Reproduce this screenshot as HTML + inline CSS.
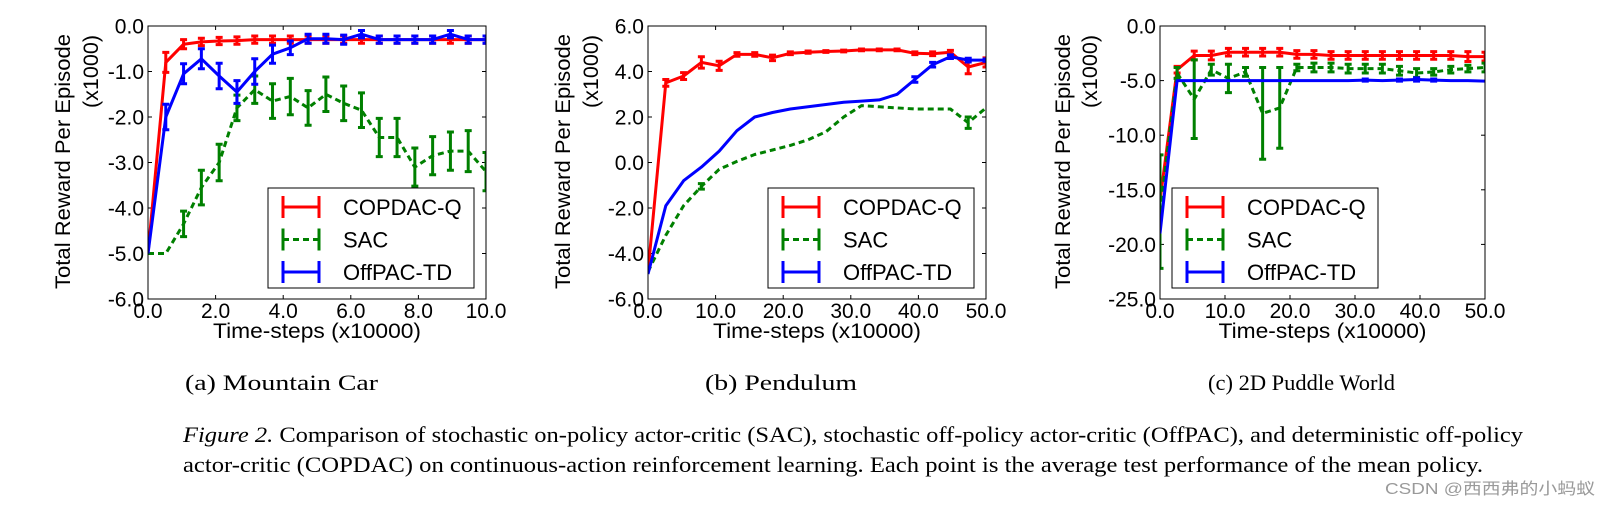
<!DOCTYPE html>
<html><head><meta charset="utf-8"><style>
html,body{margin:0;padding:0;background:#fff;}
svg{display:block;font-family:"Liberation Sans",sans-serif;}
.serif{font-family:"Liberation Serif",serif;}
</style></head><body>
<svg id="fig" width="1611" height="507" viewBox="0 0 1611 507" xmlns="http://www.w3.org/2000/svg">
<g id="charts"></g>
<text class="serif" x="185" y="390" font-size="22" textLength="193" lengthAdjust="spacingAndGlyphs">(a)  Mountain Car</text>
<text class="serif" x="705" y="390" font-size="22" textLength="152" lengthAdjust="spacingAndGlyphs">(b)  Pendulum</text>
<text class="serif" x="1208" y="390" font-size="22" textLength="187" lengthAdjust="spacingAndGlyphs">(c)  2D Puddle World</text>
<text class="serif" x="183" y="442" font-size="22" textLength="1340" lengthAdjust="spacingAndGlyphs"><tspan font-style="italic">Figure 2.</tspan>  Comparison of stochastic on-policy actor-critic (SAC), stochastic off-policy actor-critic (OffPAC), and deterministic off-policy</text>
<text class="serif" x="183" y="472" font-size="22" textLength="1300" lengthAdjust="spacingAndGlyphs">actor-critic (COPDAC) on continuous-action reinforcement learning. Each point is the average test performance of the mean policy.</text>
<text x="1385" y="494" font-size="16" textLength="210" lengthAdjust="spacingAndGlyphs" fill="#9a9a9a" font-family="'Liberation Sans','Noto Sans CJK SC',sans-serif">CSDN @西西弗的小蚂蚁</text>
</svg>
<script>
// Chart A: Mountain Car
const mcRed = [-5,-0.8,-0.4,-0.35,-0.33,-0.32,-0.3,-0.3,-0.3,-0.3,-0.3,-0.3,-0.3,-0.3,-0.3,-0.3,-0.3,-0.3,-0.3,-0.3];
const mcRedErr = [0,0.22,0.1,0.08,0.08,0.08,0.08,0.08,0.08,0.08,0.08,0.08,0.08,0.08,0.08,0.08,0.08,0.08,0.08,0.08];
const mcBlue = [-5,-2.0,-1.05,-0.72,-1.1,-1.45,-1.0,-0.62,-0.48,-0.28,-0.28,-0.3,-0.18,-0.3,-0.3,-0.3,-0.3,-0.18,-0.3,-0.3];
const mcBlueErr = [0,0.28,0.22,0.22,0.28,0.25,0.28,0.2,0.15,0.1,0.1,0.1,0.08,0.08,0.08,0.08,0.08,0.08,0.08,0.08];
const mcGreen = [-5,-5,-4.35,-3.55,-3.0,-1.8,-1.4,-1.65,-1.55,-1.8,-1.5,-1.7,-1.85,-2.45,-2.45,-3.1,-2.85,-2.75,-2.75,-3.2];
const mcGreenErr = [0,0,0.28,0.38,0.4,0.28,0.3,0.38,0.4,0.38,0.38,0.38,0.38,0.42,0.42,0.42,0.42,0.42,0.45,0.42];
const mcYTicks = ["0.0","-1.0","-2.0","-3.0","-4.0","-5.0","-6.0"];
const mcXTicks = ["0.0","2.0","4.0","6.0","8.0","10.0"];
// Chart B: Pendulum
const pdRed = [-4.8,3.5,3.8,4.4,4.25,4.75,4.75,4.6,4.8,4.85,4.88,4.9,4.95,4.95,4.95,4.8,4.78,4.85,4.2,4.4];
const pdRedErr = [0,0.15,0.15,0.25,0.2,0.08,0.08,0.12,0.06,0.05,0.04,0.04,0.04,0.04,0.04,0.06,0.08,0.08,0.3,0.2];
const pdBlue = [-4.9,-1.9,-0.8,-0.2,0.5,1.4,2.0,2.2,2.35,2.45,2.55,2.65,2.7,2.75,3.0,3.65,4.3,4.65,4.5,4.5];
const pdBlueErr = [0,0,0,0,0,0,0,0,0,0,0,0,0,0,0,0.12,0.1,0.08,0.08,0.05];
const pdGreen = [-4.8,-3.2,-1.9,-1.05,-0.3,0.05,0.35,0.55,0.75,1.0,1.35,2.0,2.5,2.45,2.4,2.35,2.35,2.35,1.75,2.4];
const pdGreenErr = [0,0,0,0.12,0,0,0,0,0,0,0,0,0,0,0,0,0,0,0.25,0];
const pdYTicks = ["6.0","4.0","2.0","0.0","-2.0","-4.0","-6.0"];
const pdXTicks = ["0.0","10.0","20.0","30.0","40.0","50.0"];
// Chart C: 2D Puddle World
const pwRed = [-16,-4,-2.7,-2.7,-2.4,-2.4,-2.4,-2.4,-2.6,-2.6,-2.7,-2.7,-2.7,-2.7,-2.7,-2.7,-2.7,-2.7,-2.8,-2.8];
const pwRedErr = [0,0.3,0.4,0.4,0.35,0.35,0.35,0.35,0.35,0.35,0.35,0.35,0.35,0.35,0.35,0.35,0.35,0.35,0.45,0.4];
const pwBlue = [-19,-5,-5,-5,-5,-5,-5,-5,-5,-5,-5,-5,-4.95,-5,-4.95,-4.9,-4.95,-5,-5,-5.05];
const pwBlueErr = [0,0,0,0,0,0,0,0,0,0,0,0,0.1,0,0.1,0.15,0.1,0,0,0];
const pwGreen = [-17,-4.3,-6.7,-4,-4.8,-4.2,-8,-7.5,-3.8,-3.8,-3.8,-3.9,-3.9,-3.9,-4.1,-4.3,-4.2,-4.0,-3.9,-3.8];
const pwGreenErr = [5.2,0.5,3.6,0.5,1.3,0.4,4.2,3.7,0.3,0.4,0.4,0.4,0.4,0.4,0.4,0.4,0.3,0.3,0.3,0.4];
const pwYTicks = ["0.0","-5.0","-10.0","-15.0","-20.0","-25.0"];
const pwXTicks = ["0.0","10.0","20.0","30.0","40.0","50.0"];

const NS = "http://www.w3.org/2000/svg";
const root = document.getElementById('charts');
function mk(tag, attrs, parent){
  const e = document.createElementNS(NS, tag);
  for (const k in attrs) e.setAttribute(k, attrs[k]);
  parent.appendChild(e); return e;
}
function chart(cfg){
  const g = mk('g', {}, root);
  
  
  const {L,R,T,B,ymin,ymax,xmax} = cfg;
  const xs = v => L + (v / xmax) * (R - L);
  const ys = v => B - (v - ymin) / (ymax - ymin) * (B - T);
  const n = cfg.series[0].vals.length;
  const xv = i => i * xmax / (n - 1);
  const cid = 'clip-' + cfg.name;
  const cp = mk('clipPath', {id: cid}, g);
  mk('rect', {x: L, y: T - 2, width: R - L, height: B - T + 4}, cp);
  cfg.yTicks.forEach(t => {
    const v = parseFloat(t);
    const y = ys(v);
    const lab = mk('text', {x: L - 4, y: y + 7.5, 'text-anchor': 'end', 'font-size': 21}, g);
    lab.textContent = t;
    
    
    mk('line', {x1: L, x2: L + 4, y1: y, y2: y, stroke: '#000', 'stroke-width': 1}, g);
    mk('line', {x1: R, x2: R - 4, y1: y, y2: y, stroke: '#000', 'stroke-width': 1}, g);
  });
  cfg.xTicks.forEach(t => {
    const x = xs(parseFloat(t));
    const lab = mk('text', {x: x, y: B + 19, 'text-anchor': 'middle', 'font-size': 21}, g);
    lab.textContent = t;
    
    
    mk('line', {x1: x, x2: x, y1: B, y2: B - 4, stroke: '#000', 'stroke-width': 1}, g);
    mk('line', {x1: x, x2: x, y1: T, y2: T + 4, stroke: '#000', 'stroke-width': 1}, g);
  });
  const xl = mk('text', {x: (L + R) / 2 - 104, y: B + 39, 'font-size': 21, textLength: 208, lengthAdjust: 'spacingAndGlyphs'}, g);
  xl.textContent = 'Time-steps (x10000)';
  
  
  const yl1 = mk('text', {x: -127, y: 0, 'font-size': 21, textLength: 255, lengthAdjust: 'spacingAndGlyphs', transform: `translate(${cfg.yl1},162) rotate(-90)`}, g);
  yl1.textContent = 'Total Reward Per Episode';
  
  
  const yl2 = mk('text', {x: -36, y: 0, 'font-size': 21, textLength: 73, lengthAdjust: 'spacingAndGlyphs', transform: `translate(${cfg.yl2},72) rotate(-90)`}, g);
  yl2.textContent = '(x1000)';
  
  
  const sg = mk('g', {'clip-path': `url(#${cid})`}, g);
  cfg.series.forEach(s => {
    const pts = s.vals.map((v, i) => xs(xv(i)).toFixed(1) + ',' + ys(v).toFixed(1)).join(' ');
    const pl = mk('polyline', {points: pts, fill: 'none', stroke: s.color, 'stroke-width': 3, 'stroke-linejoin': 'round', 'stroke-dasharray': s.dash || 'none'}, sg);
    
    
    s.err.forEach((e, i) => {
      if (e <= 0) return;
      const x = xs(xv(i)), y1 = ys(s.vals[i] + e), y2 = ys(s.vals[i] - e);
      const eb = mk('path', {d: `M${x},${y1}V${y2}M${x-3.5},${y1}H${x+3.5}M${x-3.5},${y2}H${x+3.5}`, stroke: s.color, 'stroke-width': 3, fill: 'none'}, sg);
      
      
    });
  });
  const fr = mk('rect', {x: L, y: T, width: R - L, height: B - T, fill: 'none', stroke: '#000', 'stroke-width': 1}, g);
  
  
  const lg = mk('g', {}, g);
  
  
  const lx = cfg.legX, ly = 188;
  mk('rect', {x: lx, y: ly, width: 206, height: 100, fill: '#fff', stroke: '#000', 'stroke-width': 1}, lg);
  cfg.series.forEach((s, k) => {
    const y = ly + 19 + k * 32.5;
    const x1 = lx + 15, x2 = lx + 51;
    const it = mk('g', {}, lg);
    
    
    mk('path', {d: `M${x1},${y}H${x2}`, stroke: s.color, 'stroke-width': 3, 'stroke-dasharray': s.dash || 'none'}, it);
    mk('path', {d: `M${x1},${y-11}V${y+11}M${x2},${y-11}V${y+11}`, stroke: s.color, 'stroke-width': 3}, it);
    const t = mk('text', {x: lx + 75, y: y + 8, 'font-size': 22}, it);
    t.textContent = s.label;
  });
}
const RED = '#ff0000', GREEN = '#008000', BLUE = '#0000ff';
chart({name: 'chart-mountain-car', L: 148, R: 486, T: 26, B: 299, ymin: -6, ymax: 0, xmax: 10,
  yTicks: mcYTicks, xTicks: mcXTicks, yl1: 70, yl2: 98, legX: 268,
  series: [
    {key: 'copdac-q', label: 'COPDAC-Q', color: RED, vals: mcRed, err: mcRedErr},
    {key: 'sac', label: 'SAC', color: GREEN, vals: mcGreen, err: mcGreenErr, dash: '6,4'},
    {key: 'offpac-td', label: 'OffPAC-TD', color: BLUE, vals: mcBlue, err: mcBlueErr}]});
chart({name: 'chart-pendulum', L: 648, R: 986, T: 26, B: 299, ymin: -6, ymax: 6, xmax: 50,
  yTicks: pdYTicks, xTicks: pdXTicks, yl1: 570, yl2: 598, legX: 768,
  series: [
    {key: 'copdac-q', label: 'COPDAC-Q', color: RED, vals: pdRed, err: pdRedErr},
    {key: 'sac', label: 'SAC', color: GREEN, vals: pdGreen, err: pdGreenErr, dash: '6,4'},
    {key: 'offpac-td', label: 'OffPAC-TD', color: BLUE, vals: pdBlue, err: pdBlueErr}]});
chart({name: 'chart-puddle-world', L: 1160, R: 1485, T: 26, B: 299, ymin: -25, ymax: 0, xmax: 50,
  yTicks: pwYTicks, xTicks: pwXTicks, yl1: 1070, yl2: 1097, legX: 1172,
  series: [
    {key: 'copdac-q', label: 'COPDAC-Q', color: RED, vals: pwRed, err: pwRedErr},
    {key: 'sac', label: 'SAC', color: GREEN, vals: pwGreen, err: pwGreenErr, dash: '6,4'},
    {key: 'offpac-td', label: 'OffPAC-TD', color: BLUE, vals: pwBlue, err: pwBlueErr}]});
</script>
</body></html>
